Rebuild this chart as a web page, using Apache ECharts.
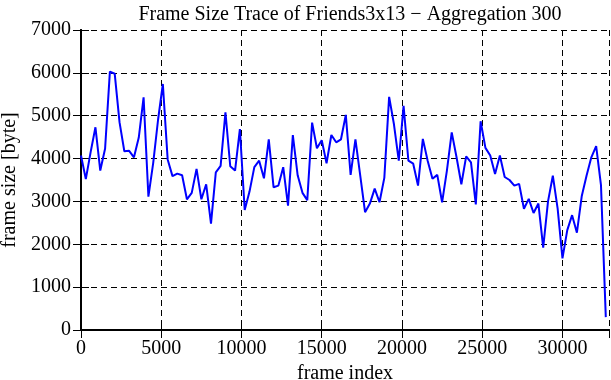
<!DOCTYPE html>
<html>
<head>
<meta charset="utf-8">
<script src="https://cdn.jsdelivr.net/npm/echarts@6/dist/echarts.min.js"></script>
<style>
html,body{margin:0;padding:0;background:#fff;}
#c{width:611px;height:380px;}
</style>
</head>
<body>
<div id="c"></div>
<script>
const titleText = "Frame Size Trace of Friends3x13 \u2212 Aggregation 300";
const xName = "frame index";
const yName = "frame size [byte]";
const xTicks = [0, 5000, 10000, 15000, 20000, 25000, 30000];
const yTicks = [0, 1000, 2000, 3000, 4000, 5000, 6000, 7000];
const frameIndex = [0,300,600,900,1200,1500,1800,2100,2400,2700,3000,3300,3600,3900,4200,4500,4800,5100,5400,5700,
  6000,6300,6600,6900,7200,7500,7800,8100,8400,8700,9000,9300,9600,9900,10200,10500,10800,11100,11400,11700,
  12000,12300,12600,12900,13200,13500,13800,14100,14400,14700,15000,15300,15600,15900,16200,16500,16800,17100,17400,17700,
  18000,18300,18600,18900,19200,19500,19800,20100,20400,20700,21000,21300,21600,21900,22200,22500,22800,23100,23400,23700,
  24000,24300,24600,24900,25200,25500,25800,26100,26400,26700,27000,27300,27600,27900,28200,28500,28800,29100,29400,29700,
  30000,30300,30600,30900,31200,31500,31800,32100,32400,32700];
const frameSize = [4070,3520,4150,4730,3720,4230,6030,5980,4850,4170,4180,4030,4490,5430,3110,3900,4900,5740,3980,3590,
  3650,3610,3050,3200,3760,3050,3400,2480,3680,3830,5080,3820,3720,4690,2800,3230,3800,3950,3540,4450,
  3330,3370,3800,2900,4550,3610,3200,3030,4840,4240,4430,3890,4550,4380,4450,5020,3620,4450,3600,2750,
  2950,3300,2980,3550,5440,4800,3950,5230,3950,3880,3370,4460,3950,3530,3620,2980,3720,4610,4030,3400,
  4050,3910,2930,4870,4250,4070,3640,4070,3570,3500,3370,3410,2830,3060,2730,2950,1920,3000,3600,2830,
  1670,2330,2680,2270,3120,3600,4030,4290,3380,300];
const xMax = 32900;
const yMax = 7000;

const chart = echarts.init(document.getElementById('c'), null, {renderer: 'canvas'});
const font = "Liberation Serif";
const data = frameIndex.map((x, i) => [x, frameSize[i]]);
const gridLine = {show: true, lineStyle: {color: '#000', width: 1, type: [6, 4]}};
const frameLine = {show: true, lineStyle: {color: '#000', width: 2}};
const tick = {show: true, inside: true, length: 8, lineStyle: {color: '#000', width: 1}};
chart.setOption({
  animation: false,
  backgroundColor: '#fff',
  title: {
    text: titleText, left: 345, top: 0, textAlign: 'center',
    textStyle: {fontFamily: font, fontSize: 20, fontWeight: 'normal', color: '#000'}
  },
  grid: {left: 81, right: 2, top: 30, bottom: 50, containLabel: false, outerBoundsMode: 'none'},
  xAxis: [{
    type: 'value', min: 0, max: xMax, interval: 5000, position: 'bottom',
    name: xName, nameLocation: 'middle', nameGap: 32,
    nameTextStyle: {fontFamily: font, fontSize: 20, color: '#000'},
    axisLine: frameLine, axisTick: tick,
    axisLabel: {fontFamily: font, fontSize: 20, color: '#000', margin: 9, showMaxLabel: false,
      formatter: v => xTicks.indexOf(v) >= 0 ? String(v) : ''},
    splitLine: gridLine
  }, {
    type: 'value', min: 0, max: xMax, interval: 5000, position: 'top',
    axisLine: frameLine, axisTick: tick,
    axisLabel: {show: false}, splitLine: {show: false}
  }],
  yAxis: [{
    type: 'value', min: 0, max: yMax, interval: 1000, position: 'left',
    name: yName, nameLocation: 'middle', nameGap: 58, nameRotate: 90,
    nameTextStyle: {fontFamily: font, fontSize: 20, color: '#000'},
    axisLine: frameLine, axisTick: tick,
    axisLabel: {fontFamily: font, fontSize: 20, color: '#000', margin: 10,
      formatter: v => yTicks.indexOf(v) >= 0 ? String(v) : ''},
    splitLine: gridLine
  }, {
    type: 'value', min: 0, max: yMax, interval: 1000, position: 'right',
    axisLine: frameLine, axisTick: tick,
    axisLabel: {show: false}, splitLine: {show: false}
  }],
  series: [{
    type: 'line', data: data, xAxisIndex: 0, yAxisIndex: 0,
    showSymbol: false, symbol: 'none',
    lineStyle: {color: '#0000ff', width: 2},
    z: 3
  }]
});
</script>
</body>
</html>
